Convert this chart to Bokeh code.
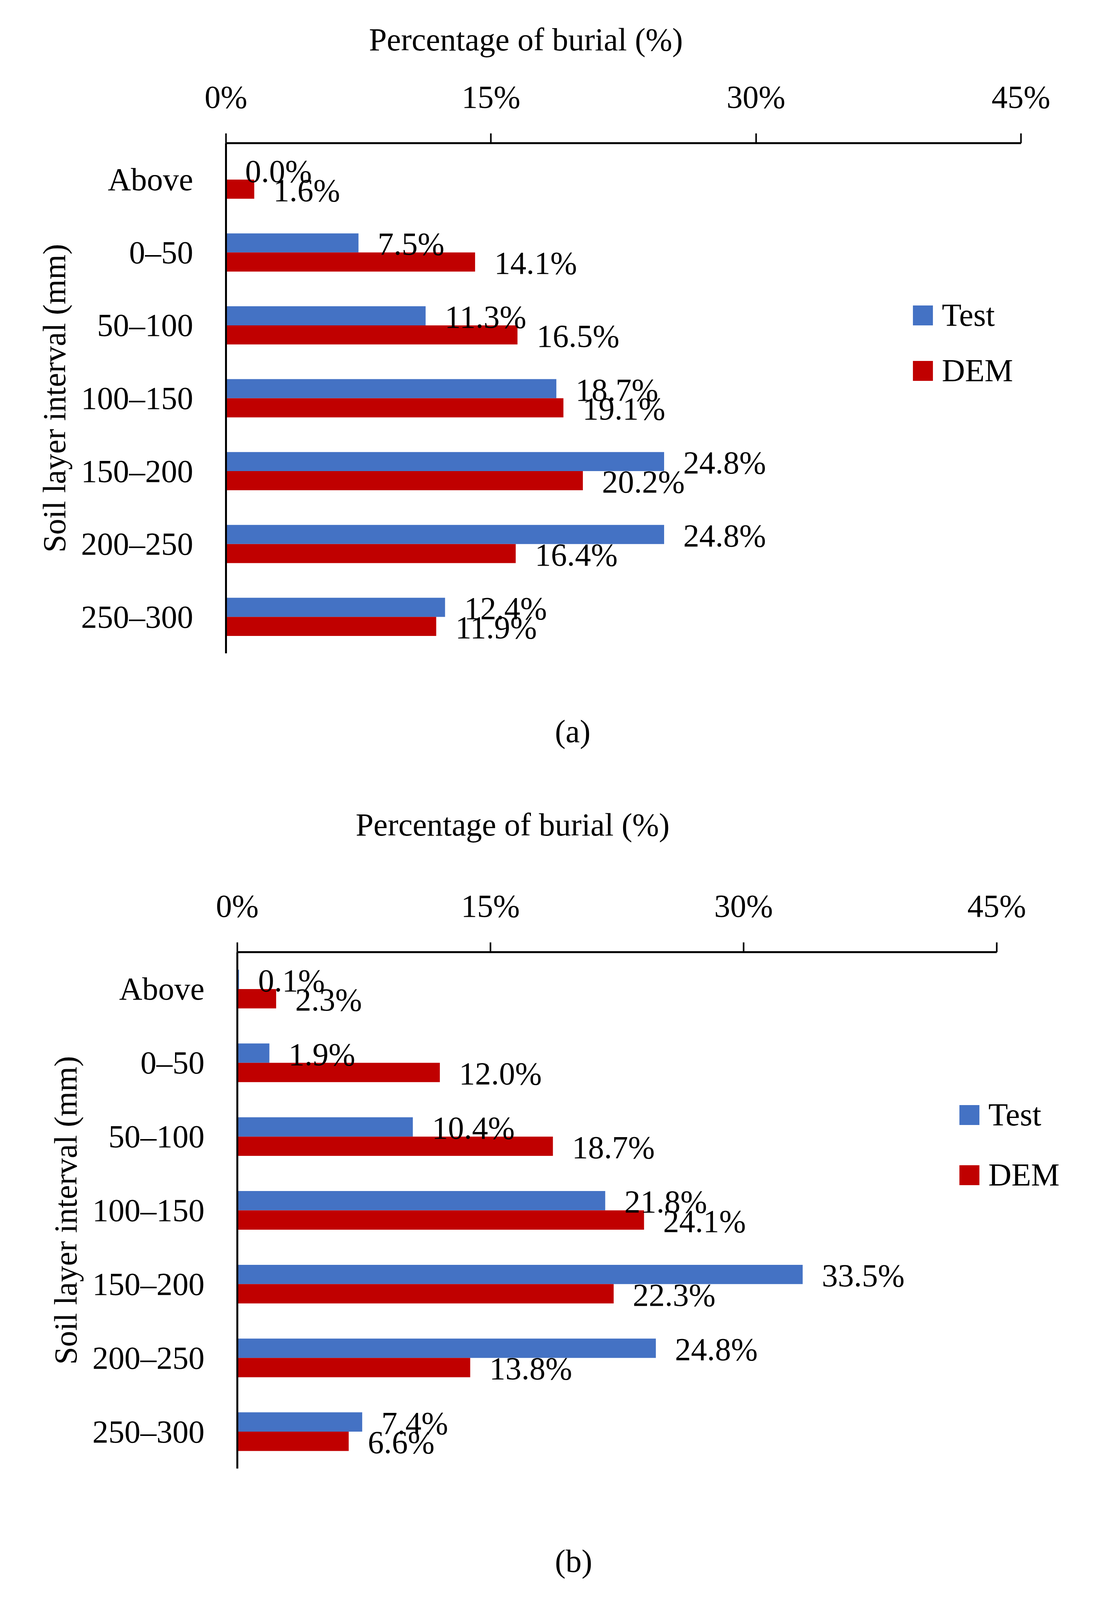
from bokeh.plotting import figure
from bokeh.models import (FactorRange, Range1d, FixedTicker, ColumnDataSource,
                          Legend, LegendItem, Title)
from bokeh.transform import dodge
from bokeh.layouts import column
from bokeh.embed import file_html
from bokeh.resources import INLINE
from bokeh.core.properties import value

# ---------------- data ----------------
categories = ["Above", "0\u201350", "50\u2013100", "100\u2013150",
              "150\u2013200", "200\u2013250", "250\u2013300"]
series_names = ["Test", "DEM"]
test_a = [0.0, 7.5, 11.3, 18.7, 24.8, 24.8, 12.4]
dem_a = [1.6, 14.1, 16.5, 19.1, 20.2, 16.4, 11.9]
test_b = [0.1, 1.9, 10.4, 21.8, 33.5, 24.8, 7.4]
dem_b = [2.3, 12.0, 18.7, 24.1, 22.3, 13.8, 6.6]
x_ticks = [0, 15, 30, 45]
x_tick_labels = ["0%", "15%", "30%", "45%"]
x_title = "Percentage of burial (%)"
y_title = "Soil layer interval (mm)"
captions = ["(a)", "(b)"]

# ---------------- style ----------------
FONT = "Liberation Serif"
FS = "82px"
BLUE = "#4472C4"
RED = "#C00000"
W = 2787
BAR_H = 0.262
DODGE = 0.131


def make_title(text, offset, standoff):
    return Title(text=text, align="left", offset=offset, standoff=standoff,
                 text_font=FONT, text_font_size=FS, text_font_style="normal",
                 text_color="black")


def make_panel(test, dem, H, left, top, bottom, x_end, leg_x, leg_y,
               leg_spacing, title_offset, title_standoff):
    p = figure(width=W, height=H,
               y_range=FactorRange(factors=categories[::-1]),
               x_range=Range1d(0, x_end), x_axis_location="above",
               output_backend="svg", toolbar_location=None, title=None,
               min_border_left=left, min_border_right=0,
               min_border_top=top, min_border_bottom=H - bottom)
    p.frame_align = False
    p.outline_line_color = None
    p.grid.visible = False

    src = ColumnDataSource(dict(
        cat=categories, test=test, dem=dem,
        tl=[f"{v:.1f}%" for v in test], dl=[f"{v:.1f}%" for v in dem]))

    yt = dodge("cat", DODGE, range=p.y_range)
    yd = dodge("cat", -DODGE, range=p.y_range)
    rt = p.hbar(y=yt, left=0, right="test", height=BAR_H, fill_color=BLUE,
                line_color=None, source=src)
    rd = p.hbar(y=yd, left=0, right="dem", height=BAR_H, fill_color=RED,
                line_color=None, source=src)
    for yy, xx, tt in ((yt, "test", "tl"), (yd, "dem", "dl")):
        p.text(x=xx, y=yy, text=tt, x_offset=49, y_offset=3,
               text_baseline="middle", text_align="left",
               text_font=value(FONT), text_font_size=FS, text_color="black",
               source=src)

    # top x axis
    xa = p.xaxis[0]
    xa.ticker = FixedTicker(ticks=x_ticks)
    xa.major_label_overrides = {t: l for t, l in zip(x_ticks, x_tick_labels)}
    xa.bounds = (x_ticks[0], x_ticks[-1])
    xa.major_tick_out = 25
    xa.major_tick_in = 0
    xa.minor_tick_line_color = None
    xa.axis_line_width = 5
    xa.axis_line_color = "black"
    xa.major_tick_line_width = 4
    xa.major_tick_line_color = "black"
    xa.major_label_standoff = 48
    xa.major_label_text_font = FONT
    xa.major_label_text_font_size = FS
    xa.major_label_text_color = "black"

    # left y axis
    ya = p.yaxis[0]
    ya.axis_line_width = 5
    ya.axis_line_color = "black"
    ya.major_tick_line_color = None
    ya.minor_tick_line_color = None
    ya.major_tick_out = 0
    ya.major_tick_in = 0
    ya.major_label_standoff = 84
    ya.major_label_text_font = FONT
    ya.major_label_text_font_size = FS
    ya.major_label_text_color = "black"
    ya.axis_label = y_title
    ya.axis_label_text_font = FONT
    ya.axis_label_text_font_size = FS
    ya.axis_label_text_font_style = "normal"
    ya.axis_label_text_color = "black"
    ya.axis_label_standoff = 20

    # x axis title (stacked above the top axis)
    p.add_layout(make_title(x_title, title_offset, title_standoff), "above")

    legend = Legend(items=[LegendItem(label=series_names[0], renderers=[rt]),
                           LegendItem(label=series_names[1], renderers=[rd])],
                    location=(leg_x, leg_y), orientation="vertical",
                    border_line_color=None, background_fill_alpha=0,
                    padding=0, margin=0, spacing=leg_spacing,
                    glyph_width=64, glyph_height=64, label_standoff=17,
                    label_text_font=FONT, label_text_font_size=FS,
                    label_text_color="black")
    p.add_layout(legend)
    return p


H1 = 1792
H2 = 2444
pa = make_panel(test_a, dem_a, H1,
                left=578, top=364, bottom=1672,
                x_end=2209 / ((2621 - 586) / 45.0),
                leg_x=1752, leg_y=676, leg_spacing=48,
                title_offset=366, title_standoff=106)
pb = make_panel(test_b, dem_b, H2,
                left=607, top=645, bottom=1967,
                x_end=2180 / ((2559 - 615) / 45.0),
                leg_x=1842, leg_y=704, leg_spacing=60,
                title_offset=303, title_standoff=228)

# caption of panel (a): outermost item above panel (b)
pb.add_layout(make_title(captions[0], 813, 63), "above")
# caption of panel (b): below panel (b)
pb.add_layout(make_title(captions[1], 813, 379), "below")

layout = column(pa, pb, spacing=0)
open("out.html", "w").write(file_html(layout, INLINE))
